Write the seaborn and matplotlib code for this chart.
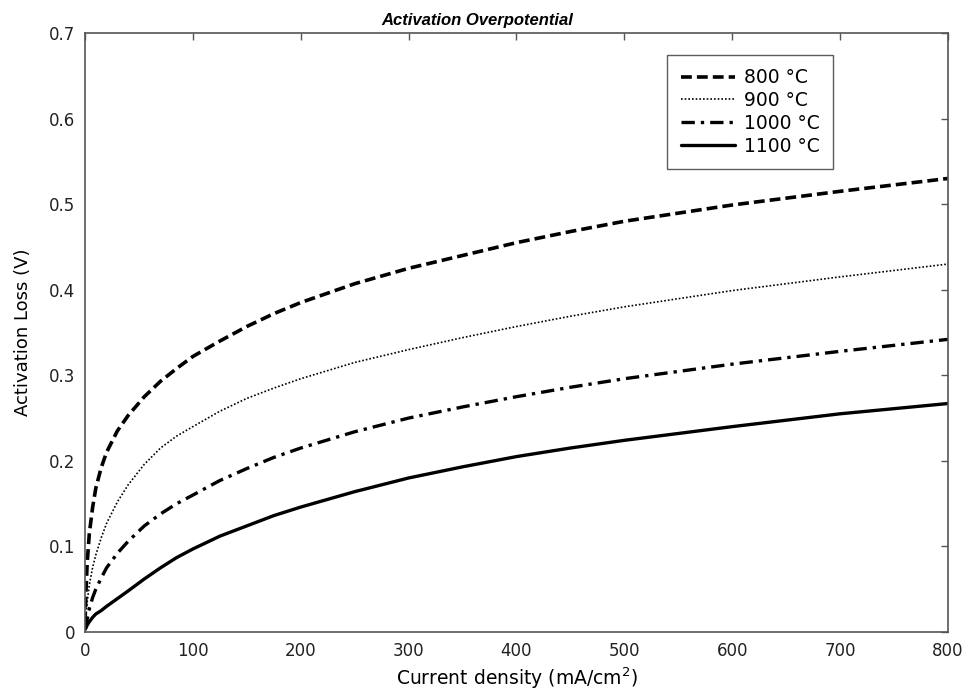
import matplotlib
matplotlib.use("Agg")
import matplotlib.pyplot as plt
import seaborn as sns
import pandas as pd
from matplotlib.ticker import FuncFormatter, MultipleLocator

current_density = [0, 1, 2, 4, 7, 10, 15, 20, 30, 40, 55, 70, 85, 100, 125, 150, 175, 200,
                   250, 300, 350, 400, 450, 500, 600, 700, 800]
loss_800 = [0.01, 0.05, 0.08, 0.115, 0.145, 0.168, 0.192, 0.21, 0.235, 0.253, 0.275, 0.293, 0.308,
            0.322, 0.34, 0.357, 0.372, 0.385, 0.407, 0.425, 0.44, 0.455, 0.468, 0.48, 0.499, 0.515, 0.53]
loss_900 = [0.005, 0.02, 0.035, 0.055, 0.075, 0.09, 0.11, 0.127, 0.152, 0.172, 0.196, 0.215, 0.229,
            0.24, 0.258, 0.273, 0.285, 0.296, 0.315, 0.33, 0.344, 0.357, 0.369, 0.38, 0.399, 0.415, 0.43]
loss_1000 = [0.003, 0.008, 0.015, 0.027, 0.04, 0.05, 0.063, 0.075, 0.092, 0.106, 0.124, 0.138, 0.15,
             0.16, 0.177, 0.191, 0.204, 0.215, 0.234, 0.25, 0.263, 0.275, 0.286, 0.296, 0.313, 0.328, 0.342]
loss_1100 = [0.003, 0.005, 0.008, 0.012, 0.017, 0.021, 0.025, 0.03, 0.039, 0.048, 0.062, 0.075, 0.087,
             0.097, 0.112, 0.124, 0.136, 0.146, 0.164, 0.18, 0.193, 0.205, 0.215, 0.224, 0.24, 0.255, 0.267]
series_labels = ["800 °C", "900 °C", "1000 °C", "1100 °C"]

sns.set_style("white")
plt.rcParams['font.family'] = ['DejaVu Sans']
plt.rcParams['text.color'] = 'black'
plt.rcParams['axes.labelcolor'] = 'black'
plt.rcParams['xtick.labelcolor'] = '#222222'
plt.rcParams['ytick.labelcolor'] = '#222222'

fig = plt.figure(figsize=(9.7, 6.98), dpi=100)
ax = fig.add_axes([85/970, 66/698, 863/970, 599/698])

styles = [
    dict(linestyle=(0, (3.0, 1.4)), linewidth=2.6),
    dict(linestyle=(0, (1, 1.2)), linewidth=1.2),
    dict(linestyle=(0, (4, 1.8, 1, 1.8)), linewidth=2.4),
    dict(linestyle='-', linewidth=2.4),
]
for vals, lab, st in zip([loss_800, loss_900, loss_1000, loss_1100], series_labels, styles):
    df = pd.DataFrame({"x": current_density, "y": vals})
    sns.lineplot(data=df, x="x", y="y", ax=ax, color="black", label=lab, **st)

ax.set_xlim(0, 800)
ax.set_ylim(0, 0.7)
ax.xaxis.set_major_locator(MultipleLocator(100))
ax.yaxis.set_major_locator(MultipleLocator(0.1))
ax.yaxis.set_major_formatter(FuncFormatter(lambda v, p: f"{v:g}"))
ax.tick_params(direction='in', top=True, right=True, length=5, width=1, labelsize=12,
               color='#555555', pad=7)
for s in ax.spines.values():
    s.set_color('#555555')
    s.set_linewidth(1.2)

ax.set_xlabel("Current density (mA/cm$^2$)", fontsize=13.5, labelpad=4)
ax.set_ylabel("Activation Loss (V)", fontsize=13, labelpad=12)
ax.set_title("Activation Overpotential", fontsize=12, fontweight='bold', fontstyle='italic', pad=6,
             x=0.454, family=['Liberation Sans', 'DejaVu Sans'], color='black')

leg = ax.legend(loc='upper right', bbox_to_anchor=(0.867, 0.963), borderaxespad=0,
                fancybox=False, frameon=True, fontsize=13.5, handlelength=2.9,
                handletextpad=0.5, labelspacing=0.2, borderpad=0.7)
leg.get_frame().set_edgecolor('#333333')
leg.get_frame().set_linewidth(1.0)

fig.savefig("out.png", dpi=100)
